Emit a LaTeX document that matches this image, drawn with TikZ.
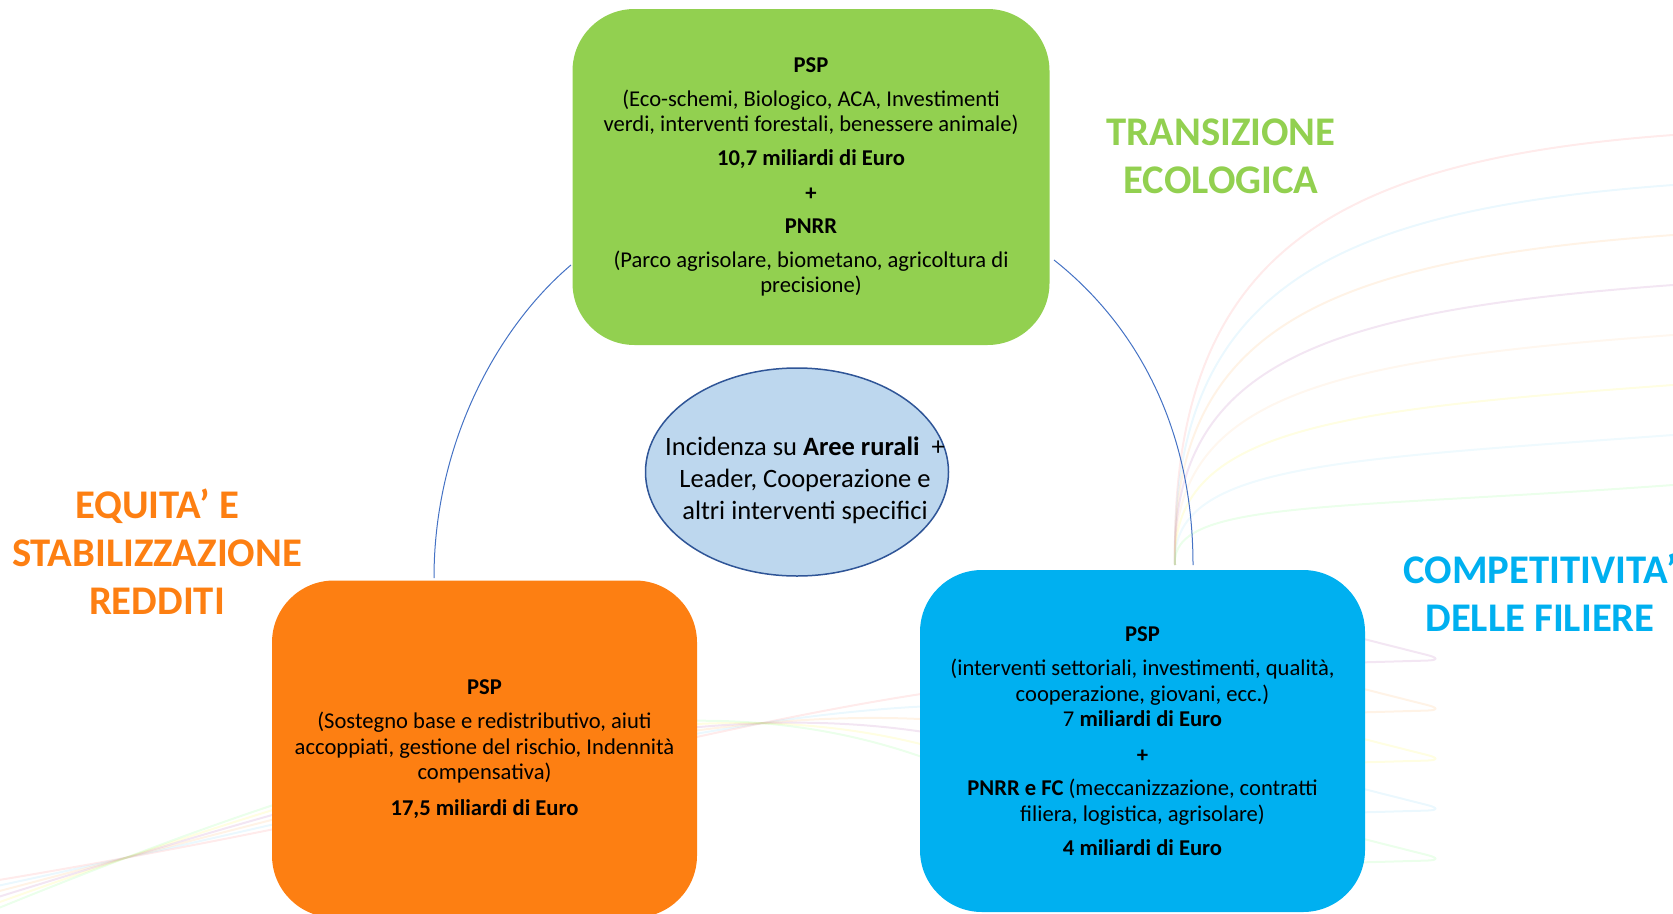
\documentclass[tikz,border=0pt]{standalone}
\usepackage{fontspec}
\setmainfont{Carlito}
\usepackage{tikz}
\usetikzlibrary{shapes.geometric}
\definecolor{verde}{HTML}{92D050}
\definecolor{arancio}{HTML}{FD7F12}
\definecolor{azzurro}{HTML}{00B0F0}
\definecolor{celeste}{HTML}{BDD7EE}
\definecolor{blu}{HTML}{2F5597}
\definecolor{linea}{HTML}{4472C4}

\begin{document}
\begin{tikzpicture}[x=1pt,y=-1pt,
  box/.style={rounded corners=62pt, align=center, inner sep=0pt,
    font=\fontsize{22.6}{25.6}\selectfont},
  title/.style={align=center, font=\bfseries\fontsize{40.7}{48}\selectfont},
  swirl/.style={line width=2pt, opacity=0.16},
  ring/.style={linea, line width=1pt}]
\clip (0,0) rectangle (1673,913);
% background swirls
\foreach \c [count=\i] in {red!50,cyan!50,orange!60,violet!60,orange!40,yellow!70,cyan!40,green!50}
  \draw[swirl, \c] (1175,565) .. controls (1170,{220+35*\i}) and (1330,{110+50*\i}) .. (1673,{85+50*\i});
\foreach \c [count=\i] in {red!50,cyan!50,orange!60,violet!60,yellow!70,green!50}
  \draw[swirl, \c] (-50,{880+8*\i}) .. controls (500,{820-20*\i}) and (800,{700-10*\i}) .. (1100,{640+35*\i});
\foreach \c [count=\i] in {violet!60,orange!60,yellow!70,cyan!50,green!50}
  \draw[swirl, \c, rounded corners=20pt] (1340,{583+50*\i}) -- (1447,{610+50*\i}) -- (1340,{613+50*\i});
% boxes
\node[box, fill=verde, minimum width=477pt, minimum height=336pt] (eco) at (811,177)
  {\textbf{PSP}\\[8.5pt]
   (Eco-schemi, Biologico, ACA, Investimenti\\
   verdi, interventi forestali, benessere animale)\\[7.5pt]
   \textbf{10,7 miliardi di Euro}\\[9.5pt]
   \textbf{+}\\[7.5pt]
   \textbf{PNRR}\\[8.5pt]
   (Parco agrisolare, biometano, agricoltura di\\
   precisione)};
\node[box, fill=arancio, minimum width=425pt, minimum height=337pt] (equi) at (484.5,749)
  {\textbf{PSP}\\[9pt]
   (Sostegno base e redistributivo, aiuti\\
   accoppiati, gestione del rischio, Indennità\\
   compensativa)\\[10pt]
   \textbf{17,5 miliardi di Euro}};
\node[box, fill=azzurro, minimum width=445pt, minimum height=342pt] (comp) at (1142.5,741)
  {\textbf{PSP}\\[8.5pt]
   (interventi settoriali, investimenti, qualità,\\
   cooperazione, giovani, ecc.)\\
   7 \textbf{miliardi di Euro}\\[10pt]
   \textbf{+}\\[7.5pt]
   \textbf{PNRR e FC} (meccanizzazione, contratti\\
   filiera, logistica, agrisolare)\\[8.5pt]
   \textbf{4 miliardi di Euro}};
% ring
\coordinate (ecoL) at (571,265);
\coordinate (ecoR) at (1054,260);
\coordinate (equiT) at (434,578);
\coordinate (compT) at (1193,565);
\draw[ring] (ecoL) .. controls (500,325) and (434,440) .. (equiT);
\draw[ring] (ecoR) .. controls (1130,320) and (1193,420) .. (compT);
% centre
\node[ellipse, draw=blu, fill=celeste, line width=1.5pt, minimum width=303pt, minimum height=208pt] (hub) at (797,472) {};
\node[align=center, font=\fontsize{26.5}{32}\selectfont] (hubtext) at (805,480)
  {Incidenza su \textbf{Aree rurali}\ \ +\\Leader, Cooperazione e\\altri interventi specifici};
% labels
\node[title, verde] (ecolabel) at (1221,156) {TRANSIZIONE\\ECOLOGICA};
\node[title, arancio] (equilabel) at (157,552) {EQUITA’ E\\STABILIZZAZIONE\\REDDITI};
\node[title, azzurro] (complabel) at (1540,593) {COMPETITIVITA’\\DELLE FILIERE};
\end{tikzpicture}
\end{document}
